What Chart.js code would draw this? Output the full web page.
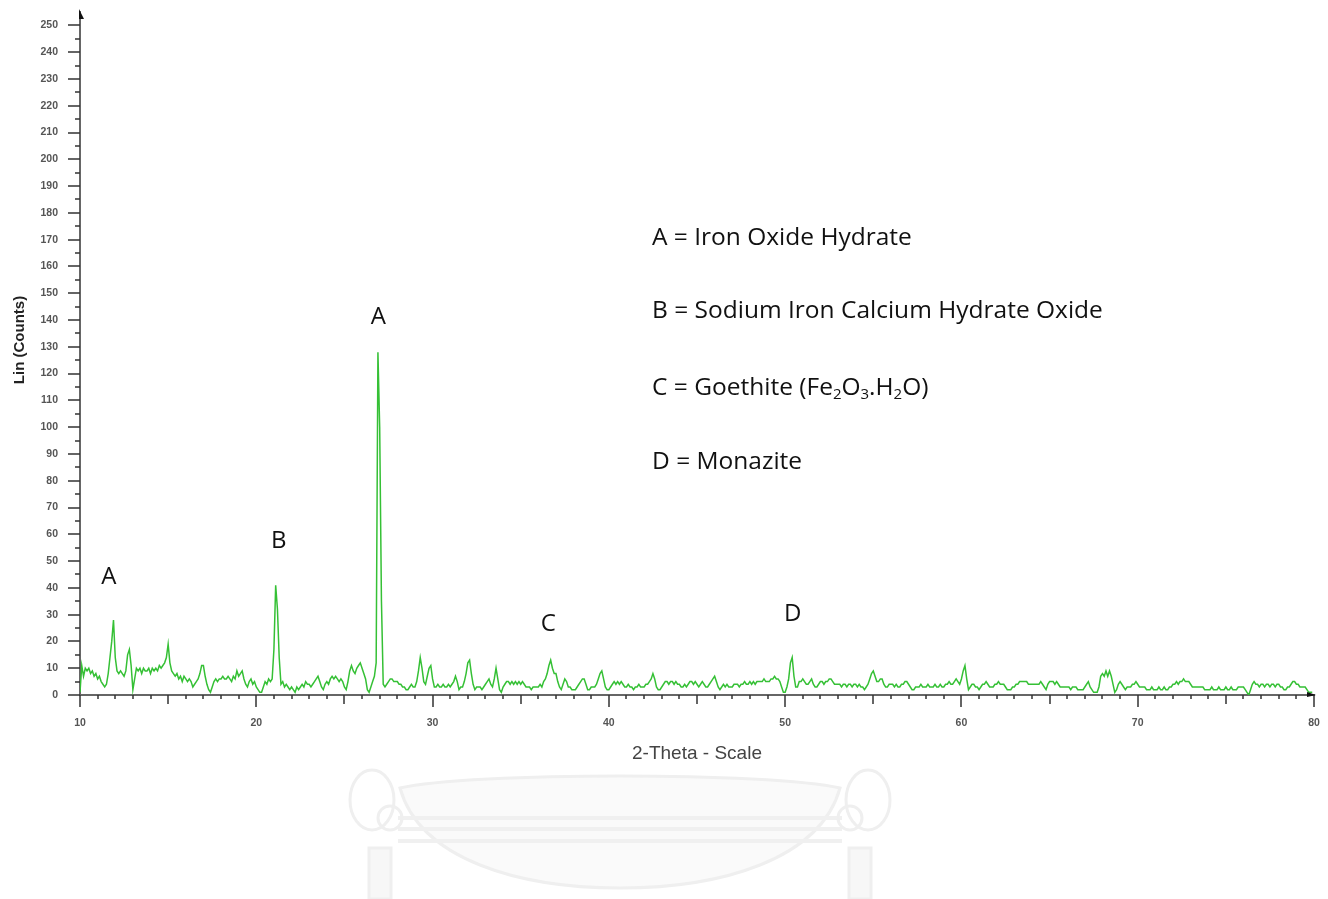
<!DOCTYPE html>
<html>
<head>
<meta charset="utf-8">
<title>XRD pattern</title>
<script src="https://cdn.jsdelivr.net/npm/chart.js@4.4.1/dist/chart.umd.min.js"></script>
<style>
  html, body { margin: 0; padding: 0; background: #fff; }
  #wrap { position: relative; width: 1328px; height: 899px; }
</style>
</head>
<body>
<div id="wrap"><canvas id="xrd"></canvas></div>
<script>
// Scan grid: 2-theta from 10.0 deg in 0.1 deg steps
const scanStart = 10.0;
const scanStep = 0.1;

// Intensities (Lin counts), one array per 10-degree span, 10 values per degree
const counts10 = [
  1, 11, 7, 10, 9, 10, 8, 9, 7, 8,
  6, 7, 5, 4, 3, 4, 8, 14, 20, 28,
  14, 9, 8, 9, 8, 7, 9, 15, 17, 11,
  2, 6, 10, 9, 10, 8, 10, 9, 9, 10,
  8, 10, 9, 10, 9, 11, 10, 11, 12, 14,
  19, 12, 9, 8, 7, 8, 6, 7, 5, 7,
  6, 5, 6, 5, 3, 4, 5, 6, 8, 11,
  11, 7, 4, 2, 1, 3, 5, 6, 5, 6,
  6, 7, 6, 6, 7, 6, 5, 7, 6, 9,
  7, 8, 9, 6, 4, 3, 5, 6, 4, 5
];
const counts20 = [
  3, 2, 1, 1, 3, 5, 4, 6, 5, 6,
  17, 41, 32, 14, 4, 5, 3, 4, 3, 2,
  3, 2, 1, 3, 2, 3, 4, 3, 5, 4,
  4, 3, 4, 5, 6, 7, 5, 3, 2, 4,
  5, 4, 6, 7, 6, 7, 6, 5, 6, 5,
  3, 2, 5, 9, 11, 9, 8, 10, 11, 12,
  10, 8, 6, 2, 1, 3, 5, 7, 12, 128,
  100, 35, 4, 3, 4, 5, 6, 6, 5, 5,
  5, 4, 4, 3, 3, 2, 2, 3, 4, 3,
  3, 5, 9, 14, 10, 5, 4, 7, 10, 11
];
const counts30 = [
  6, 3, 3, 4, 3, 3, 4, 3, 3, 4,
  3, 4, 5, 7, 5, 2, 3, 3, 5, 8,
  12, 13, 8, 4, 2, 3, 3, 3, 2, 3,
  4, 5, 6, 4, 3, 6, 10, 6, 2, 1,
  3, 4, 5, 5, 4, 5, 4, 5, 4, 5,
  4, 5, 4, 3, 3, 3, 2, 3, 3, 3,
  3, 4, 3, 5, 6, 8, 11, 13, 10, 8,
  8, 5, 3, 2, 4, 6, 5, 3, 3, 2,
  2, 2, 3, 4, 5, 6, 6, 4, 2, 2,
  3, 3, 3, 4, 6, 8, 9, 6, 3, 2
];
const counts40 = [
  2, 3, 4, 5, 4, 5, 4, 5, 4, 3,
  3, 4, 3, 3, 2, 3, 3, 4, 3, 3,
  3, 4, 4, 5, 6, 8, 6, 3, 2, 2,
  3, 4, 5, 5, 4, 5, 5, 4, 5, 4,
  4, 3, 3, 4, 3, 4, 5, 5, 4, 5,
  4, 3, 4, 5, 4, 3, 3, 4, 5, 6,
  7, 5, 3, 2, 3, 4, 3, 4, 3, 3,
  3, 4, 4, 4, 3, 4, 4, 5, 4, 4,
  5, 4, 5, 4, 5, 5, 5, 5, 6, 5,
  5, 5, 6, 6, 7, 6, 6, 5, 3, 1
];
const counts50 = [
  1, 3, 6, 12, 14, 7, 3, 3, 5, 5,
  6, 5, 4, 4, 5, 6, 4, 3, 3, 4,
  5, 5, 4, 5, 5, 6, 6, 5, 4, 4,
  4, 4, 3, 4, 4, 3, 4, 4, 3, 4,
  4, 3, 4, 3, 3, 2, 3, 4, 6, 8,
  9, 7, 5, 5, 6, 6, 4, 3, 3, 4,
  4, 4, 3, 4, 3, 3, 4, 4, 5, 5,
  4, 3, 2, 2, 3, 3, 3, 4, 3, 3,
  3, 4, 3, 3, 3, 4, 3, 3, 4, 3,
  3, 4, 4, 5, 4, 4, 5, 6, 5, 4
];
const counts60 = [
  6, 9, 11, 6, 2, 3, 4, 4, 3, 3,
  2, 3, 4, 4, 5, 4, 3, 3, 3, 4,
  4, 5, 4, 4, 4, 3, 2, 2, 2, 3,
  3, 4, 4, 5, 5, 5, 5, 5, 4, 4,
  4, 4, 4, 4, 4, 5, 4, 3, 2, 4,
  5, 5, 5, 4, 5, 4, 3, 3, 3, 3,
  3, 3, 2, 3, 3, 3, 2, 2, 2, 2,
  3, 4, 5, 3, 2, 1, 1, 1, 3, 7,
  8, 7, 9, 7, 9, 7, 4, 1, 2, 4,
  5, 4, 3, 2, 3, 3, 3, 4, 4, 5
];
const counts70 = [
  4, 3, 3, 3, 3, 2, 2, 2, 3, 2,
  2, 2, 3, 2, 2, 3, 2, 2, 3, 3,
  4, 4, 5, 4, 5, 5, 6, 5, 5, 5,
  4, 3, 3, 3, 3, 3, 3, 3, 2, 2,
  2, 2, 3, 2, 2, 2, 3, 2, 2, 2,
  3, 2, 2, 3, 2, 2, 2, 3, 3, 3,
  3, 2, 1, 0, 2, 4, 5, 4, 4, 3,
  4, 4, 3, 4, 4, 3, 4, 4, 3, 4,
  4, 3, 3, 2, 2, 3, 3, 4, 5, 5,
  4, 4, 3, 3, 3, 3, 2, 1, 1, 1
];

// Axis tick labels (2-theta every 10 deg)
const xTickLabels = ['10', '20', '30', '40', '50', '60', '70', '80'];
const yAxisTitle = 'Lin (Counts)';

// Phase letters marked above the peaks
const peakLetters = ['A', 'B', 'A', 'C', 'D'];
const peakTheta = [11.64, 21.27, 26.93, 36.56, 50.43];
const peakLetterLevel = [44, 57.5, 141, 26.5, 30.2];

// Phase key; 'sub' parts are subscripts
const phaseKey = [
  [{ t: 'A = Iron Oxide Hydrate' }],
  [{ t: 'B = Sodium Iron Calcium Hydrate Oxide' }],
  [{ t: 'C = Goethite (Fe' }, { t: '2', sub: true }, { t: 'O' }, { t: '3', sub: true },
   { t: '.H' }, { t: '2', sub: true }, { t: 'O)' }],
  [{ t: 'D = Monazite' }]
];

const allCounts = [].concat(counts10, counts20, counts30, counts40, counts50, counts60, counts70);
const scanPoints = allCounts.map((c, i) => ({ x: +(scanStart + i * scanStep).toFixed(1), y: c }));

const textFont = '"Open Sans", "Noto Sans", sans-serif';

// Faint university emblem behind the lower part of the page
const emblem = {
  id: 'emblem',
  beforeDraw(chart) {
    const { ctx } = chart;
    ctx.save();
    ctx.fillStyle = '#ffffff';
    ctx.fillRect(0, 0, chart.width, chart.height);
    ctx.lineWidth = 3;
    ctx.strokeStyle = '#efefef';
    ctx.fillStyle = '#fafafa';
    // body
    ctx.beginPath();
    ctx.moveTo(400, 788);
    ctx.bezierCurveTo(470, 772, 770, 772, 840, 788);
    ctx.bezierCurveTo(820, 860, 720, 888, 620, 888);
    ctx.bezierCurveTo(520, 888, 420, 860, 400, 788);
    ctx.closePath();
    ctx.fill();
    ctx.stroke();
    // bands
    ctx.lineWidth = 4;
    ctx.strokeStyle = '#f0f0f0';
    [818, 829, 841].forEach(yy => {
      ctx.beginPath();
      ctx.moveTo(398, yy);
      ctx.lineTo(842, yy);
      ctx.stroke();
    });
    // side knots and tassels
    ctx.lineWidth = 3;
    ctx.strokeStyle = '#efefef';
    [[372, 1], [868, -1]].forEach(([cx, d]) => {
      ctx.beginPath();
      ctx.ellipse(cx, 800, 22, 30, 0, 0, Math.PI * 2);
      ctx.stroke();
      ctx.beginPath();
      ctx.arc(cx + d * 18, 818, 12, 0, Math.PI * 2);
      ctx.stroke();
      ctx.fillStyle = '#f7f7f7';
      ctx.fillRect(cx + d * 8 - 11, 848, 22, 51);
      ctx.strokeRect(cx + d * 8 - 11, 848, 22, 51);
    });
    ctx.restore();
  }
};

// Tick marks, axis arrows, y title, peak letters and the phase key
const decorations = {
  id: 'decorations',
  afterDraw(chart) {
    const { ctx, chartArea, scales: { x, y } } = chart;
    ctx.save();
    ctx.strokeStyle = '#333';
    ctx.lineWidth = 1.5;
    ctx.beginPath();
    for (let v = 0; v <= 250; v += 5) {
      const py = Math.round(y.getPixelForValue(v));
      const len = v % 10 === 0 ? 12 : 5;
      ctx.moveTo(chartArea.left - len, py);
      ctx.lineTo(chartArea.left, py);
    }
    for (let v = 10; v <= 80; v += 1) {
      const px = Math.round(x.getPixelForValue(v));
      const len = v % 10 === 0 ? 12 : (v % 5 === 0 ? 9 : 4);
      ctx.moveTo(px, chartArea.bottom);
      ctx.lineTo(px, chartArea.bottom + len);
    }
    ctx.stroke();

    // arrow heads at the axis ends
    ctx.fillStyle = '#111';
    ctx.beginPath();
    ctx.moveTo(chartArea.left - 1, chartArea.top - 3);
    ctx.lineTo(chartArea.left + 4, chartArea.top + 7);
    ctx.lineTo(chartArea.left - 1, chartArea.top + 7);
    ctx.closePath();
    ctx.fill();
    ctx.beginPath();
    ctx.moveTo(chartArea.right + 2, chartArea.bottom);
    ctx.lineTo(chartArea.right - 7, chartArea.bottom - 3);
    ctx.lineTo(chartArea.right - 7, chartArea.bottom + 2);
    ctx.closePath();
    ctx.fill();

    // vertical axis title
    ctx.save();
    ctx.translate(20, 340);
    ctx.rotate(-Math.PI / 2);
    ctx.fillStyle = '#222';
    ctx.font = 'bold 15px "Liberation Sans", Arial, sans-serif';
    ctx.textAlign = 'center';
    ctx.textBaseline = 'middle';
    ctx.fillText(yAxisTitle, 0, 0);
    ctx.restore();

    // peak letters
    ctx.fillStyle = '#111';
    ctx.font = '24px ' + textFont;
    ctx.textAlign = 'center';
    ctx.textBaseline = 'middle';
    peakLetters.forEach((L, i) => {
      ctx.fillText(L, x.getPixelForValue(peakTheta[i]), y.getPixelForValue(peakLetterLevel[i]));
    });

    // phase key
    ctx.textAlign = 'left';
    const keyX = 652;
    const keyY = [238, 311, 388, 462];
    phaseKey.forEach((parts, i) => {
      let cx = keyX;
      parts.forEach(p => {
        if (p.sub) {
          ctx.font = '15px ' + textFont;
          ctx.fillText(p.t, cx, keyY[i] + 7);
        } else {
          ctx.font = '24.5px ' + textFont;
          ctx.fillText(p.t, cx, keyY[i]);
        }
        cx += ctx.measureText(p.t).width;
      });
    });
    ctx.restore();
  }
};

const tickFont = { family: '"Liberation Sans", Arial, sans-serif', size: 10.5, weight: 'bold' };
// label offsets are carried by invisible tick marks so the plot area keeps its size
const hiddenTicks = { display: true, drawOnChartArea: false, drawTicks: true, tickLength: 22, tickColor: 'rgba(0,0,0,0)' };

new Chart(document.getElementById('xrd'), {
  type: 'line',
  data: {
    datasets: [{
      label: yAxisTitle,
      data: scanPoints,
      borderColor: '#35c035',
      borderWidth: 1.5,
      pointRadius: 0,
      tension: 0,
      fill: false
    }]
  },
  options: {
    responsive: true,
    maintainAspectRatio: false,
    animation: false,
    devicePixelRatio: 1,
    layout: { autoPadding: false, padding: { top: 12, right: 14, left: 0, bottom: 0 } },
    plugins: { legend: { display: false }, tooltip: { enabled: false } },
    scales: {
      x: {
        type: 'linear',
        position: 'bottom',
        bounds: 'data',
        min: 10,
        max: 80,
        afterFit(scale) { scale.height = 204; },
        grid: hiddenTicks,
        border: { display: true, color: '#666', width: 2 },
        ticks: {
          stepSize: 10,
          autoSkip: false,
          maxRotation: 0,
          padding: 0,
          color: '#555',
          font: tickFont,
          callback: (v) => xTickLabels[Math.round((v - 10) / 10)]
        },
        title: {
          display: true,
          text: '2-Theta - Scale',
          color: '#444',
          font: { family: '"Liberation Sans", Arial, sans-serif', size: 19 },
          padding: { top: 0, bottom: 134 }
        }
      },
      y: {
        type: 'linear',
        bounds: 'data',
        min: 0,
        max: 255,
        afterFit(scale) { scale.width = 80; },
        afterBuildTicks(scale) { scale.ticks = scale.ticks.filter(t => t.value <= 250); },
        grid: hiddenTicks,
        border: { display: true, color: '#666', width: 2 },
        ticks: {
          stepSize: 10,
          includeBounds: false,
          padding: 0,
          color: '#555',
          font: tickFont
        },
        title: { display: false }
      }
    }
  },
  plugins: [emblem, decorations]
});
</script>
</body>
</html>
